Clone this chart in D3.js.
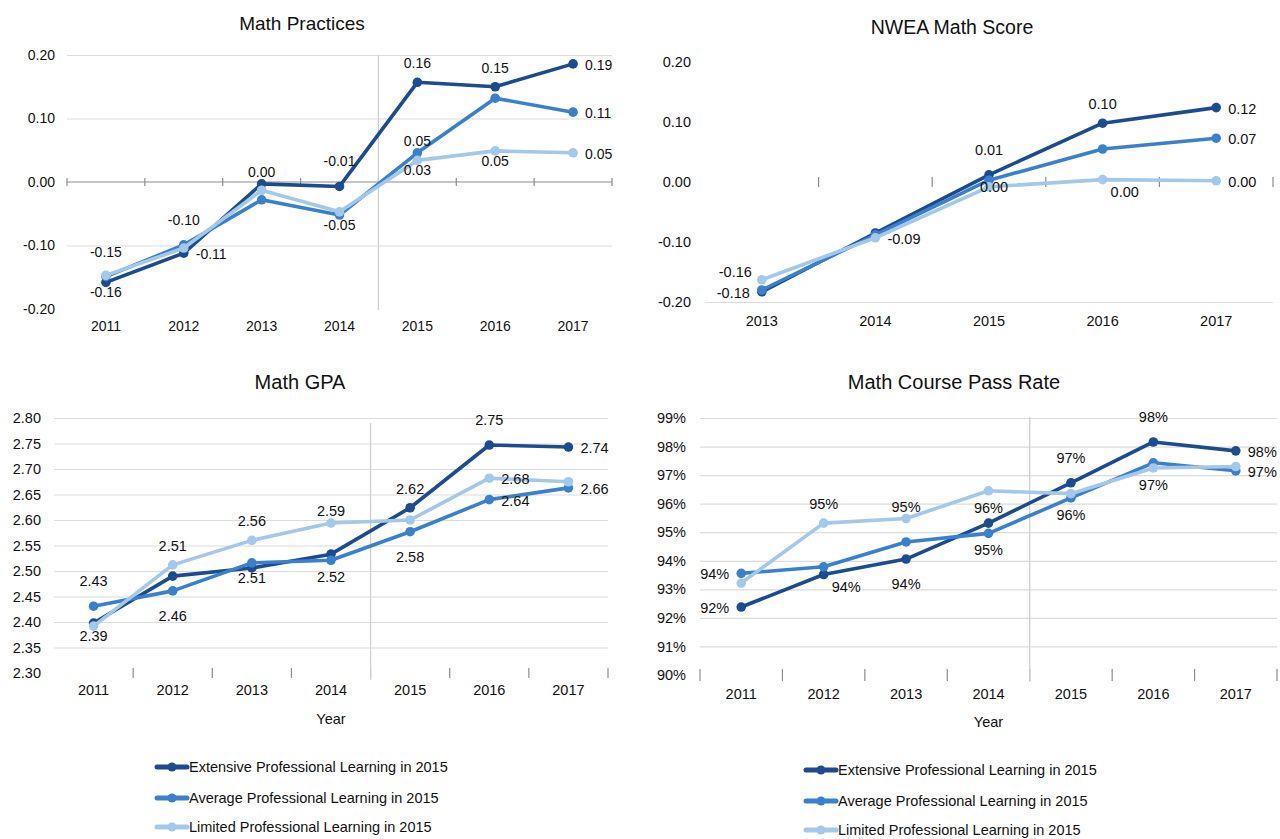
<!DOCTYPE html>
<html>
<head>
<meta charset="utf-8">
<script src="https://d3js.org/d3.v7.min.js"></script>
<style>
  body { margin: 0; background: #fff; }
  svg text { font-family: "Liberation Sans", Arial, sans-serif; fill: #111; }
  .title { text-anchor: middle; }
</style>
</head>
<body>
<svg width="1280" height="839"></svg>
<script>
// ---- data ----
var years7 = ["2011", "2012", "2013", "2014", "2015", "2016", "2017"];
var years5 = ["2013", "2014", "2015", "2016", "2017"];
var seriesNames = [
  "Extensive Professional Learning in 2015",
  "Average Professional Learning in 2015",
  "Limited Professional Learning in 2015"
];

var practicesExtensive = [-0.158, -0.112, -0.003, -0.007, 0.157, 0.150, 0.186];
var practicesAverage   = [-0.149, -0.099, -0.028, -0.052, 0.046, 0.132, 0.110];
var practicesLimited   = [-0.147, -0.104, -0.013, -0.047, 0.034, 0.049, 0.046];
var practicesTicks = [-0.20, -0.10, 0.00, 0.10, 0.20];

var nweaExtensive = [-0.183, -0.085, 0.012, 0.098, 0.124];
var nweaAverage   = [-0.180, -0.088, 0.003, 0.055, 0.073];
var nweaLimited   = [-0.163, -0.093, -0.008, 0.004, 0.002];
var nweaTicks = [-0.20, -0.10, 0.00, 0.10, 0.20];

var gpaExtensive = [2.398, 2.490, 2.506, 2.533, 2.624, 2.747, 2.743];
var gpaAverage   = [2.431, 2.461, 2.516, 2.521, 2.577, 2.640, 2.663];
var gpaLimited   = [2.392, 2.512, 2.560, 2.594, 2.600, 2.682, 2.675];
var gpaTicks = [2.30, 2.35, 2.40, 2.45, 2.50, 2.55, 2.60, 2.65, 2.70, 2.75, 2.80];

var passExtensive = [92.38, 93.52, 94.06, 95.32, 96.73, 98.16, 97.85];
var passAverage   = [93.56, 93.79, 94.66, 94.96, 96.20, 97.43, 97.15];
var passLimited   = [93.22, 95.32, 95.48, 96.45, 96.35, 97.25, 97.30];
var passTicks = [90, 91, 92, 93, 94, 95, 96, 97, 98, 99];

// ---- styling ----
var colors = ["#1d4b8f", "#3b80cc", "#a3c8ea"];

// where each point's data label sits (null = no label)
var placements = {
  above:      { dx: 0,   dy: -19, anchor: "middle" },
  aboveFar:   { dx: 0,   dy: -25, anchor: "middle" },
  aboveNear:  { dx: 0,   dy: -12, anchor: "middle" },
  below:      { dx: 0,   dy: 17,  anchor: "middle" },
  belowFar:   { dx: 0,   dy: 25,  anchor: "middle" },
  belowNear:  { dx: 0,   dy: 10,  anchor: "middle" },
  right:      { dx: 12,  dy: 1,   anchor: "start" },
  left:       { dx: -12, dy: 1,   anchor: "end" },
  aboveLeft:  { dx: -10, dy: -8,  anchor: "end" },
  belowRight: { dx: 8,   dy: 12,  anchor: "start" },
  onRight:    { dx: 5,   dy: 7,   anchor: "middle" }
};

var practicesLabels = [
  ["belowNear", "right", "aboveNear", "aboveFar", "above", "above", "right"],
  ["aboveFar", "aboveFar", null, "belowNear", "aboveNear", null, "right"],
  [null, null, null, null, "belowNear", "belowNear", "right"]
];
var nweaLabels = [
  ["left", null, "aboveFar", "above", "right"],
  [null, null, "onRight", null, "right"],
  ["aboveLeft", "right", null, "belowRight", "right"]
];
var gpaLabels = [
  [null, null, "belowNear", null, "above", "aboveFar", "right"],
  ["aboveFar", "belowFar", null, "below", "belowFar", "right", "right"],
  ["belowNear", "above", "above", "aboveNear", null, "right", null]
];
var passLabels = [
  ["left", "belowRight", "belowFar", null, "aboveFar", "aboveFar", "right"],
  ["left", null, null, "below", "below", null, "right"],
  [null, "above", "aboveNear", "below", null, "below", null]
];

var svg = d3.select("svg");
var minusFmt = d3.formatLocale({ decimal: ".", thousands: ",", grouping: [3], currency: ["$", ""], minus: "-" });
var fmt2 = minusFmt.format(".2f");
var fmtPct = function(v) { return d3.format(".0f")(v) + "%"; };

function drawPanel(o) {
  var g = svg.append("g");
  var x = d3.scaleBand().domain(o.years).range([o.x0, o.x1]).padding(0);
  var y = d3.scaleLinear().domain(o.domain).range([o.y0, o.y1]);

  // title
  g.append("text").attr("class", "title")
    .attr("x", o.titleX).attr("y", o.titleY)
    .attr("dy", "0.35em")
    .style("font-size", o.titleSize + "px")
    .text(o.title);

  // gridlines + y labels
  var yAxis = g.append("g")
    .attr("transform", "translate(" + o.x0 + ",0)")
    .call(d3.axisLeft(y).tickValues(o.ticks).tickSize(-(o.x1 - o.x0))
      .tickPadding(o.yPad).tickFormat(o.tickFmt));
  yAxis.select(".domain").remove();
  yAxis.selectAll(".tick line")
    .attr("stroke", "#dcdcdc").attr("stroke-width", 1.2)
    .attr("display", function(d) { return o.grid.indexOf(d) >= 0 ? null : "none"; });
  yAxis.selectAll(".tick text").style("font-size", o.fontSize + "px").attr("fill", "#111");

  // zero axis line (Math Practices)
  if (o.axisLine != null) {
    g.append("line")
      .attr("x1", o.x0).attr("x2", o.x1)
      .attr("y1", y(o.axisLine)).attr("y2", y(o.axisLine))
      .attr("stroke", "#8c8c8c").attr("stroke-width", 1.2);
  }

  // category boundary tick marks
  var bounds = o.years.map(function(d) { return x(d); }).concat([o.x1]);
  if (o.skipFirstTick) bounds = bounds.slice(1);
  g.selectAll(".btick").data(bounds).enter().append("line")
    .attr("x1", function(d) { return d; }).attr("x2", function(d) { return d; })
    .attr("y1", y(o.tickAt) - o.tickUp).attr("y2", y(o.tickAt) + o.tickDown)
    .attr("stroke", "#8c8c8c").attr("stroke-width", 1.2);

  // x labels
  var xAxis = g.append("g")
    .attr("transform", "translate(0," + o.y0 + ")")
    .call(d3.axisBottom(x).tickSize(0).tickPadding(o.xPad));
  xAxis.select(".domain").remove();
  xAxis.selectAll(".tick text").style("font-size", o.fontSize + "px").attr("fill", "#111");

  if (o.xTitle) {
    g.append("text").attr("class", "title")
      .attr("x", (o.x0 + o.x1) / 2).attr("y", o.xTitleY).attr("dy", "0.35em")
      .style("font-size", o.fontSize + "px").text(o.xTitle);
  }

  // separator between 2014 and 2015
  if (o.sep) {
    g.append("line")
      .attr("x1", x("2015")).attr("x2", x("2015"))
      .attr("y1", o.sep[0]).attr("y2", o.sep[1])
      .attr("stroke", "#cfcfcf").attr("stroke-width", 1.3);
  }

  var line = d3.line()
    .x(function(d, i) { return x(o.years[i]) + x.bandwidth() / 2; })
    .y(function(d) { return y(d); });

  o.series.forEach(function(vals, si) {
    g.append("path").datum(vals)
      .attr("d", line).attr("fill", "none")
      .attr("stroke", colors[si]).attr("stroke-width", 3.6)
      .attr("stroke-linejoin", "round").attr("stroke-linecap", "round");
    g.selectAll(".pt" + si).data(vals).enter().append("circle")
      .attr("cx", function(d, i) { return x(o.years[i]) + x.bandwidth() / 2; })
      .attr("cy", function(d) { return y(d); })
      .attr("r", 4.8).attr("fill", colors[si]);
  });

  // data labels
  o.series.forEach(function(vals, si) {
    vals.forEach(function(v, i) {
      var code = o.labels[si][i];
      if (!code) return;
      var p = placements[code];
      g.append("text")
        .attr("x", x(o.years[i]) + x.bandwidth() / 2 + p.dx)
        .attr("y", y(v) + p.dy).attr("dy", "0.35em")
        .attr("text-anchor", p.anchor)
        .style("font-size", o.fontSize + "px")
        .text(o.labelFmt(v));
    });
  });
}

drawPanel({
  title: "Math Practices", titleX: 302, titleY: 23, titleSize: 19,
  years: years7, x0: 67, x1: 612, domain: [-0.2, 0.2], y0: 309, y1: 55,
  ticks: practicesTicks, grid: [0.2, 0.1, -0.1], tickFmt: fmt2, yPad: 12,
  axisLine: 0, tickAt: 0, tickUp: 4, tickDown: 4, skipFirstTick: false,
  xPad: 12, fontSize: 14, sep: [55, 310],
  series: [practicesExtensive, practicesAverage, practicesLimited],
  labels: practicesLabels, labelFmt: fmt2
});

drawPanel({
  title: "NWEA Math Score", titleX: 952, titleY: 27, titleSize: 19.5,
  years: years5, x0: 705, x1: 1273, domain: [-0.2, 0.2], y0: 302, y1: 62,
  ticks: nweaTicks, grid: [-0.2], tickFmt: fmt2, yPad: 14,
  axisLine: null, tickAt: 0, tickUp: 5, tickDown: 5, skipFirstTick: true,
  xPad: 14, fontSize: 14.5, sep: null,
  series: [nweaExtensive, nweaAverage, nweaLimited],
  labels: nweaLabels, labelFmt: fmt2
});

drawPanel({
  title: "Math GPA", titleX: 300, titleY: 382, titleSize: 20,
  years: years7, x0: 54, x1: 608, domain: [2.30, 2.80], y0: 673, y1: 418,
  ticks: gpaTicks, grid: gpaTicks.slice(1), tickFmt: d3.format(".2f"), yPad: 13,
  axisLine: null, tickAt: 2.30, tickUp: 5, tickDown: 5, skipFirstTick: true,
  xPad: 12, fontSize: 14.5, sep: [423, 680],
  xTitle: "Year", xTitleY: 719,
  series: [gpaExtensive, gpaAverage, gpaLimited],
  labels: gpaLabels, labelFmt: d3.format(".2f")
});

drawPanel({
  title: "Math Course Pass Rate", titleX: 954, titleY: 382, titleSize: 20,
  years: years7, x0: 700, x1: 1277, domain: [90, 99], y0: 675, y1: 418,
  ticks: passTicks, grid: passTicks.slice(1), tickFmt: fmtPct, yPad: 14,
  axisLine: null, tickAt: 90, tickUp: 6, tickDown: 6, skipFirstTick: false,
  xPad: 14, fontSize: 14.5, sep: [417, 682],
  xTitle: "Year", xTitleY: 722,
  series: [passExtensive, passAverage, passLimited],
  labels: passLabels, labelFmt: fmtPct
});

// legends
function drawLegend(lx, rows) {
  var lg = svg.append("g");
  seriesNames.forEach(function(name, i) {
    var yy = rows[i];
    lg.append("line").attr("x1", lx).attr("x2", lx + 30)
      .attr("y1", yy).attr("y2", yy)
      .attr("stroke", colors[i]).attr("stroke-width", 5).attr("stroke-linecap", "round");
    lg.append("circle").attr("cx", lx + 15).attr("cy", yy).attr("r", 4.5).attr("fill", colors[i]);
    lg.append("text").attr("x", lx + 32).attr("y", yy).attr("dy", "0.35em")
      .style("font-size", "14.5px").text(name);
  });
}
drawLegend(157, [767, 798, 827]);
drawLegend(806, [770, 801, 830]);
</script>
</body>
</html>
